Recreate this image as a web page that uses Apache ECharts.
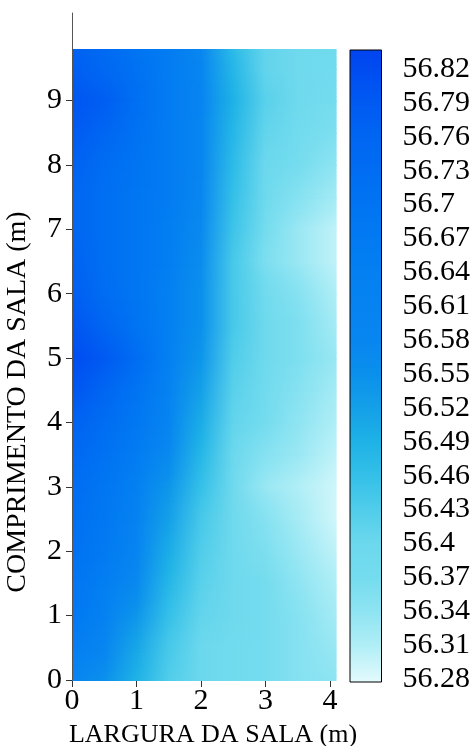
<!DOCTYPE html>
<html>
<head>
<meta charset="utf-8">
<script src="https://cdn.jsdelivr.net/npm/echarts@6/dist/echarts.min.js"></script>
<style>
html,body{margin:0;padding:0;background:#fff;}
#chart{width:473px;height:746px;}
</style>
</head>
<body>
<div id="chart"></div>
<script>
// ---- data ----
const xNodes = [0, 0.5, 1, 1.5, 2, 2.5, 3, 3.5, 4.1];
const yNodes = [0, 0.5, 1, 1.5, 2, 2.5, 3, 3.5, 4, 4.5, 5, 5.5, 6, 6.5, 7, 7.5, 8, 8.5, 9, 9.5, 9.8];
const values = [
  [56.60,56.55,56.49,56.43,56.40,56.38,56.37,56.35,56.34],
  [56.65,56.59,56.51,56.44,56.40,56.38,56.37,56.35,56.33],
  [56.68,56.63,56.54,56.46,56.41,56.39,56.37,56.35,56.32],
  [56.69,56.65,56.57,56.48,56.42,56.39,56.37,56.34,56.31],
  [56.71,56.67,56.60,56.50,56.43,56.39,56.36,56.33,56.30],
  [56.72,56.68,56.62,56.52,56.44,56.39,56.35,56.32,56.29],
  [56.73,56.69,56.64,56.54,56.46,56.39,56.33,56.31,56.29],
  [56.75,56.71,56.66,56.57,56.48,56.40,56.35,56.33,56.30],
  [56.77,56.73,56.68,56.60,56.50,56.41,56.37,56.34,56.31],
  [56.80,56.76,56.70,56.62,56.52,56.42,56.38,56.35,56.32],
  [56.82,56.79,56.73,56.64,56.54,56.43,56.39,56.36,56.33],
  [56.80,56.76,56.70,56.64,56.55,56.44,56.39,56.36,56.32],
  [56.78,56.73,56.69,56.64,56.55,56.44,56.38,56.35,56.31],
  [56.77,56.72,56.69,56.65,56.56,56.44,56.36,56.33,56.30],
  [56.76,56.72,56.69,56.65,56.57,56.45,56.37,56.33,56.30],
  [56.76,56.72,56.69,56.66,56.58,56.46,56.39,56.35,56.32],
  [56.77,56.73,56.70,56.66,56.59,56.47,56.40,56.37,56.34],
  [56.79,56.76,56.71,56.66,56.59,56.48,56.41,56.38,56.36],
  [56.80,56.78,56.72,56.66,56.60,56.49,56.42,56.39,56.37],
  [56.78,56.75,56.71,56.66,56.59,56.48,56.41,56.39,56.38],
  [56.77,56.74,56.70,56.66,56.58,56.47,56.41,56.39,56.38]
];
const xTicks = [0, 1, 2, 3, 4];
const yTicks = [0, 1, 2, 3, 4, 5, 6, 7, 8, 9];
const cbTicks = [56.28,56.31,56.34,56.37,56.4,56.43,56.46,56.49,56.52,56.55,56.58,56.61,56.64,56.67,56.7,56.73,56.76,56.79,56.82];
const cbRange = [56.2773, 56.8368];
const xTitle = 'LARGURA DA SALA (m)';
const yTitle = 'COMPRIMENTO DA SALA (m)';

// ---- colour scale ----
const cmapStops = [
  [56.2773,'#e4fbfd'],[56.31,'#b0eef6'],[56.34,'#8ee4f2'],[56.37,'#74dcee'],
  [56.40,'#6cd8ed'],[56.43,'#50cdea'],[56.46,'#34c0e8'],[56.49,'#1eb2e6'],
  [56.52,'#14a0e8'],[56.55,'#0a90ec'],[56.58,'#0886f0'],[56.64,'#0480f2'],
  [56.70,'#0074f2'],[56.76,'#0066f2'],[56.79,'#005af2'],[56.8368,'#0044f0']
];
function h2r(h){return [parseInt(h.substr(1,2),16),parseInt(h.substr(3,2),16),parseInt(h.substr(5,2),16)];}
const cs = cmapStops.map(s=>[s[0],h2r(s[1])]);
function cmap(v){
  if(v<=cs[0][0]) return 'rgb('+cs[0][1].join(',')+')';
  for(let i=1;i<cs.length;i++){
    if(v<=cs[i][0]){
      const t=(v-cs[i-1][0])/(cs[i][0]-cs[i-1][0]);
      const c=cs[i-1][1].map((a,k)=>Math.round(a+(cs[i][1][k]-a)*t));
      return 'rgb('+c.join(',')+')';
    }
  }
  return 'rgb('+cs[cs.length-1][1].join(',')+')';
}

const FONT = 'Liberation Serif';
const xMax = xNodes[xNodes.length-1];

const chart = echarts.init(document.getElementById('chart'), null, {renderer:'canvas'});
chart.setOption({
  animation:false,
  backgroundColor:'#fff',
  grid:[
    {left:72, top:13, width:264.5, height:667},
    {left:350, top:50, width:33, height:632}
  ],
  xAxis:[
    {type:'value', gridIndex:0, min:0, max:xMax, interval:1,
     axisLine:{show:false},
     axisTick:{show:true, length:7, customValues:xTicks, lineStyle:{color:'#333'}},
     axisLabel:{customValues:xTicks, margin:6, color:'#000', fontFamily:FONT, fontSize:30},
     splitLine:{show:false}},
    {type:'value', gridIndex:1, min:0, max:1, show:false}
  ],
  yAxis:[
    {type:'value', gridIndex:0, min:0, max:10.36, interval:1, z:5,
     axisLine:{show:true, lineStyle:{color:'#555'}},
     axisTick:{show:true, length:6, customValues:yTicks, lineStyle:{color:'#333'}},
     axisLabel:{customValues:yTicks, margin:10, color:'#000', fontFamily:FONT, fontSize:30},
     splitLine:{show:false}},
    {type:'value', gridIndex:1, position:'right', min:cbRange[0], max:cbRange[1],
     axisLine:{show:false},
     axisTick:{show:true, length:14, customValues:cbTicks, lineStyle:{color:'#000'}},
     axisLabel:{customValues:cbTicks, margin:21, color:'#000', fontFamily:FONT, fontSize:30},
     splitLine:{show:false}}
  ],
  series:[
    {
      type:'custom', xAxisIndex:0, yAxisIndex:0, z:1, silent:true,
      data: yNodes.slice(0,-1).map((y,j)=>[0, y, j]),
      encode:{x:0, y:1},
      renderItem:function(params, api){
        const j = api.value(2);
        const pTL = api.coord([xNodes[0], yNodes[j+1]]);
        const pBR = api.coord([xMax, yNodes[j]]);
        const left=pTL[0], top=pTL[1], right=pBR[0], bottom=pBR[1];
        const h = bottom-top;
        const K = Math.max(1, Math.round(h/2));
        const children=[];
        for(let k=0;k<K;k++){
          const s = 1-(k+0.5)/K; // weight of upper row
          const stops = xNodes.map((x,i)=>({
            offset: x/xMax,
            color: cmap(values[j][i]*(1-s)+values[j+1][i]*s)
          }));
          const ya = Math.floor(top+k*h/K);
          const yb = (k===K-1) ? Math.ceil(bottom) : Math.floor(top+(k+1)*h/K);
          children.push({
            type:'rect',
            shape:{x:left, y:ya, width:right-left, height:yb-ya+1},
            style:{fill:new echarts.graphic.LinearGradient(0,0,1,0,stops)}
          });
        }
        return {type:'group', children:children};
      }
    },
    {
      type:'custom', xAxisIndex:1, yAxisIndex:1, z:2, silent:true,
      data:[[0, cbRange[0], cbRange[1]]],
      encode:{x:0, y:1},
      renderItem:function(params, api){
        const p0 = api.coord([0, api.value(2)]);
        const p1 = api.coord([1, api.value(1)]);
        const span = cbRange[1]-cbRange[0];
        const stops = cmapStops.map(s=>({offset:(cbRange[1]-s[0])/span, color:s[1]})).reverse();
        return {
          type:'rect',
          shape:{x:p0[0], y:p0[1], width:p1[0]-p0[0], height:p1[1]-p0[1]},
          style:{fill:new echarts.graphic.LinearGradient(0,0,0,1,stops), stroke:'#000', lineWidth:1}
        };
      }
    }
  ],
  graphic:[
    {type:'text', x:213, y:735, style:{text:xTitle, font:'26px "Liberation Serif"', fill:'#000', align:'center', verticalAlign:'middle'}},
    {type:'text', x:18, y:402, rotation:Math.PI/2, style:{text:yTitle, font:'28px "Liberation Serif"', fill:'#000', align:'center', verticalAlign:'middle'}}
  ]
});
</script>
</body>
</html>
